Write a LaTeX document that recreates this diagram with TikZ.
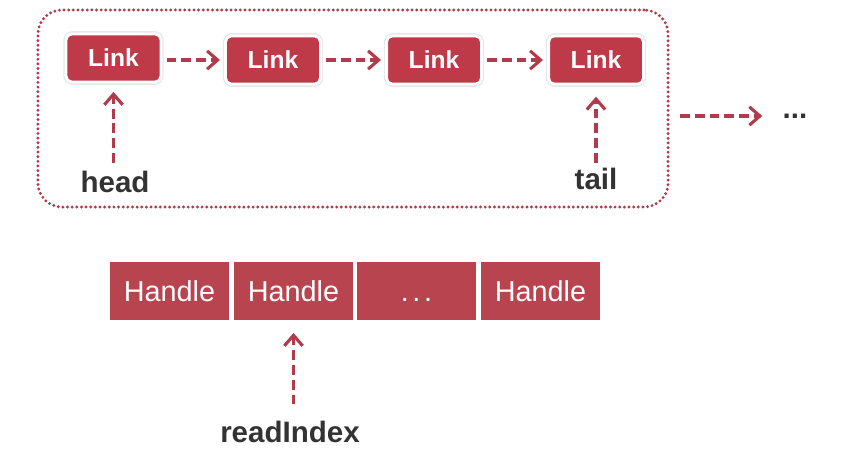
\documentclass[tikz,border=0pt]{standalone}
\usepackage{fontspec}
\setmainfont{Liberation Sans}
\usetikzlibrary{arrows.meta}
\definecolor{linkred}{HTML}{BF3A49}
\definecolor{handlered}{HTML}{B8444F}
\definecolor{arrowred}{HTML}{B13A4B}
\definecolor{labelgray}{HTML}{333333}
\tikzset{
  every picture/.style={
    line join=round,
    >={Straight Barb[length=7.5pt,width=13pt]},  % open chevron tips
  },
  linkbox/.style={rounded corners=4pt, fill=linkred, draw=white, line width=2pt,
    preaction={draw=black!9, line width=4pt},
    minimum width=2.37cm, minimum height=1.2cm, text=white,
    font=\fontsize{17.5}{20}\selectfont\bfseries},
  handlebox/.style={fill=handlered, minimum width=2.95cm, minimum height=1.45cm,
    text=white, font=\fontsize{20.5}{24}\selectfont},
  ptr/.style={->, arrowred, line width=2.2pt, dash pattern=on 7pt off 3.5pt},
  ptrlabel/.style={text=labelgray, anchor=base, font=\fontsize{21}{24}\selectfont\bfseries},
  frame/.style={draw=arrowred, line width=2.3pt, line cap=round,
    dash pattern=on 0pt off 3.3pt, rounded corners=0.6cm},
}
\begin{document}
\begin{tikzpicture}[x=0.025cm, y=-0.025cm]
    \useasboundingbox (0,0) rectangle (859,456);

    % Linked list of links
    \node[frame, minimum width=15.75cm, minimum height=4.925cm] (box) at (353,108.5) {};
    \node[linkbox] (l1) at (113.5,58) {Link};
    \node[linkbox] (l2) at (273,60) {Link};
    \node[linkbox] (l3) at (434,60) {Link};
    \node[linkbox] (l4) at (596,60) {Link};
    \draw[ptr, shorten <=3pt, shorten >=3pt] (l1.east |- l2) -- (l2);
    \draw[ptr, shorten <=3pt, shorten >=3pt] (l2) -- (l3);
    \draw[ptr, shorten <=3pt, shorten >=3pt] (l3) -- (l4);

    % head and tail
    \node[ptrlabel] (head) at (115,192) {head};
    \node[ptrlabel] (tail) at (596,189) {tail};
    \draw[ptr, shorten <=2pt, shorten >=6pt] (l1.south |- head.north) -- (l1.south);
    \draw[ptr, shorten >=8pt] (l4.south |- tail.north) -- (l4.south);

    % more links
    \coordinate (out) at (680,116);
    \node[font=\fontsize{21}{24}\selectfont\bfseries, text=labelgray] (more) at (795,116) {...};
    \draw[ptr, shorten >=11pt] (out) -- (out -| more.west);

    % Handle array
    \node[handlebox] (h1) at (169.5,291) {Handle};
    \node[handlebox] (h2) at (293.5,291) {Handle};
    \node[handlebox] (h3) at (416.5,291) {\vphantom{Handle}.\kern2.5pt.\kern2.5pt.};
    \node[handlebox] (h4) at (540.5,291) {Handle};

    % readIndex
    \node[ptrlabel] (ri) at (290,442) {readIndex};
    \draw[ptr, shorten <=8pt, shorten >=9pt] (h2.south |- ri.north) -- (h2.south);
\end{tikzpicture}
\end{document}
